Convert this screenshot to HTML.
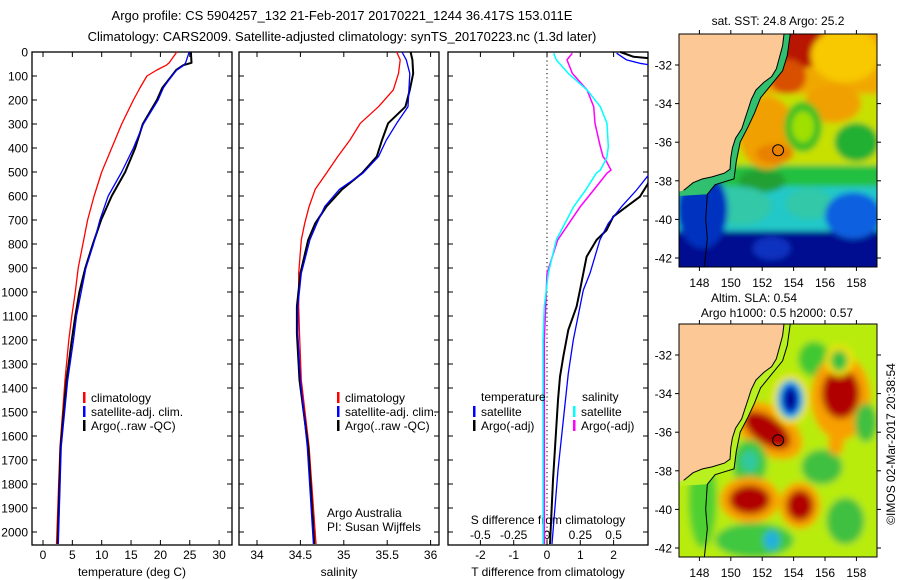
<!DOCTYPE html>
<html><head><meta charset="utf-8">
<style>
html,body{margin:0;padding:0;background:#fff;}
svg{display:block;font-family:"Liberation Sans",sans-serif;}
</style></head>
<body>
<svg id="fig" xmlns="http://www.w3.org/2000/svg" width="900" height="580" viewBox="0 0 900 580">
<defs>
<clipPath id="clipT"><rect x="448" y="37" width="200" height="508"/></clipPath>
<clipPath id="clipM1"><rect x="679" y="34" width="198" height="233"/></clipPath>
<clipPath id="clipM2"><rect x="679" y="324" width="198" height="233"/></clipPath>
<filter id="blur1" x="-20%" y="-20%" width="140%" height="140%"><feGaussianBlur stdDeviation="3.5"/></filter>
<filter id="blur2" x="-20%" y="-20%" width="140%" height="140%"><feGaussianBlur stdDeviation="3"/></filter>
</defs>
<text x="342" y="20" font-size="13" text-anchor="middle">Argo profile: CS 5904257_132 21-Feb-2017 20170221_1244 36.417S 153.011E</text>
<text x="342" y="41" font-size="13" text-anchor="middle">Climatology: CARS2009. Satellite-adjusted climatology: synTS_20170223.nc (1.3d later)</text>
<g id="g-panels"></g>
<g id="g-maps"></g>
<text font-size="12" text-anchor="middle" transform="translate(895,444) rotate(-90)">©IMOS 02-Mar-2017 20:38:54</text>
</svg>
<script>
// ---------- DATA ----------
const tempDepths = [0,45,55,75,100,150,200,300,400,500,600,700,800,900,1000,1100,1200,1367,1646,2050];
const tempClim   = [22.8,21.5,21.0,19.4,17.7,16.5,15.4,13.4,11.7,10.0,8.7,7.6,6.8,6.0,5.5,4.9,4.4,3.75,2.9,2.3];
const tempSat    = [24.9,24.3,24.0,22.8,21.9,20.5,19.6,17.1,15.4,13.4,11.1,9.7,8.6,7.3,6.5,5.7,5.2,4.2,3.1,2.6];
const tempArgo   = [25.2,25.3,23.9,22.7,21.9,20.3,19.4,17.0,15.7,14.0,11.7,9.9,8.5,7.2,6.2,5.5,4.9,4.0,3.0,2.5];

const salDepths = [0,33,89,158,228,297,367,436,505,572,644,714,783,922,1061,1172,1367,1646,2050];
const salClim   = [35.61,35.65,35.63,35.57,35.40,35.19,35.07,34.93,34.80,34.67,34.60,34.55,34.51,34.48,34.48,34.49,34.51,34.60,34.68];
const salSat    = [35.67,35.72,35.76,35.75,35.74,35.61,35.49,35.40,35.22,34.95,34.78,34.69,34.61,34.51,34.47,34.47,34.50,34.58,34.65];
const salArgo   = [35.77,35.79,35.80,35.76,35.71,35.51,35.44,35.38,35.21,34.98,34.80,34.67,34.59,34.50,34.46,34.46,34.49,34.59,34.66];

const sDiffDepths = [5,33,89,158,228,297,394,436,450,492,505,575,644,783,922,1061,1200,1600,2050];
const sDiffSat    = [0.05,0.07,0.16,0.30,0.40,0.45,0.46,0.45,0.44,0.40,0.37,0.29,0.20,0.07,0.01,-0.02,-0.03,-0.03,-0.03];
const sDiffArgo   = [0.19,0.15,0.19,0.30,0.35,0.36,0.40,0.42,0.44,0.48,0.45,0.35,0.25,0.08,0.00,-0.01,-0.02,-0.02,-0.02];

const tDiffDepths  = [5,33,47,54,120,514,575,644,714,783,922,992,1061,1200,1339,1742,2050];
const tDiffSat     = [2.09,2.39,2.79,3.1,3.6,3.04,2.69,2.24,1.84,1.59,1.29,1.09,0.99,0.79,0.64,0.33,0.15];
const tDiffArgoDep = [0,20,26,60,547,603,644,686,742,783,853,922,992,1061,1158,1269,1353,1450,1783,2050];
const tDiffArgo    = [2.2,2.6,3.05,3.6,3.04,2.79,2.39,1.99,1.79,1.49,1.19,1.09,0.99,0.89,0.64,0.49,0.39,0.33,0.18,0.09];

const depthTicks = [0,100,200,300,400,500,600,700,800,900,1000,1100,1200,1300,1400,1500,1600,1700,1800,1900,2000];
const tempTicks = [0,5,10,15,20,25,30];
const salTicks = [34,34.5,35,35.5,36];
const tDiffTicks = [-2,-1,0,1,2];
const sDiffTicks = [-0.5,-0.25,0,0.25,0.5];
const sDiffTickLabels = ["-0.5","-0.25","0","0.25","0.5"];
const lonTicks = [148,150,152,154,156,158];
const latTicks = [-32,-34,-36,-38,-40,-42];

// ---------- SCALES ----------
const NS='http://www.w3.org/2000/svg';
const yD = d => 52 + d*0.24;
const xT = t => 43 + t*5.87;
const xS = s => 257 + (s-34)*86.8;
const xTD = t => 547 + t*33.3;
const xSD = s => 547 + s*133.3;
const mapX = lon => 679 + (lon-146.7)*15.7;
const mapY = (lat,off) => 65 + off + (-32-lat)*19.3;

function mk(tag, attrs, parent){const e=document.createElementNS(NS,tag);for(const k in attrs)e.setAttribute(k,attrs[k]);parent.appendChild(e);return e;}
const G = document.getElementById('g-panels');
const M = document.getElementById('g-maps');

function line(depths, vals, xf, color, width, name, parent){
  const pts = depths.map((d,i)=>xf(vals[i]).toFixed(1)+','+yD(d).toFixed(1)).join(' ');
  const p = mk('polyline',{points:pts,fill:'none',stroke:color,'stroke-width':width,'stroke-linejoin':'round'},parent);
  
  
  return p;
}

function panel(x0, name){
  const r = mk('rect',{x:x0,y:52,width:200,height:493,fill:'none',stroke:'#000','stroke-width':1.3},G);
  
  
  depthTicks.forEach(d=>{
    mk('line',{x1:x0,x2:x0+5,y1:yD(d),y2:yD(d),stroke:'#000'},G);
    mk('line',{x1:x0+200,x2:x0+195,y1:yD(d),y2:yD(d),stroke:'#000'},G);
  });
}
panel(32,'temperature-panel');
panel(239,'salinity-panel');
panel(448,'difference-panel');

depthTicks.forEach(d=>{
  const t = mk('text',{x:28,y:yD(d)+4.5,'font-size':12,'text-anchor':'end'},G);
  t.textContent = d;
  
  
});
tempTicks.forEach(v=>{
  mk('line',{x1:xT(v),x2:xT(v),y1:545,y2:540,stroke:'#000'},G);
  mk('line',{x1:xT(v),x2:xT(v),y1:52,y2:57,stroke:'#000'},G);
  const t=mk('text',{x:xT(v),y:559,'font-size':12,'text-anchor':'middle'},G);t.textContent=v;
  
  
});
salTicks.forEach(v=>{
  mk('line',{x1:xS(v),x2:xS(v),y1:545,y2:540,stroke:'#000'},G);
  mk('line',{x1:xS(v),x2:xS(v),y1:52,y2:57,stroke:'#000'},G);
  const t=mk('text',{x:xS(v),y:559,'font-size':12,'text-anchor':'middle'},G);t.textContent=v;
  
  
});
tDiffTicks.forEach(v=>{
  mk('line',{x1:xTD(v),x2:xTD(v),y1:545,y2:540,stroke:'#000'},G);
  mk('line',{x1:xTD(v),x2:xTD(v),y1:52,y2:57,stroke:'#000'},G);
  const t=mk('text',{x:xTD(v),y:559,'font-size':12,'text-anchor':'middle'},G);t.textContent=v;
  
  
});
sDiffTicks.forEach((v,i)=>{
  const t=mk('text',{x:xSD(v),y:539,'font-size':12,'text-anchor':'middle'},G);t.textContent=sDiffTickLabels[i];
  
  
});
function label(x,y,txt,name,anchor){
  const t=mk('text',{x:x,y:y,'font-size':12,'text-anchor':anchor||'middle'},G);t.textContent=txt;
  
  
}
label(132,576,'temperature (deg C)','temperature-axis-title');
label(339,576,'salinity','salinity-axis-title');
label(548,576,'T difference from climatology','t-diff-axis-title');
label(548,524,'S difference from climatology','s-diff-axis-title');
label(327,517,'Argo Australia','argo-australia-label','start');
label(327,531,'PI: Susan Wijffels','pi-label','start');

mk('line',{x1:xTD(0),x2:xTD(0),y1:52,y2:545,stroke:'#000','stroke-dasharray':'1.2,3','stroke-width':1},G);

line(tempDepths,tempClim,xT,'#ff0000',1.3,'temperature-climatology-line',G);
line(tempDepths,tempArgo,xT,'#000',2,'temperature-argo-line',G);
line(tempDepths,tempSat,xT,'#0000ff',1.3,'temperature-satellite-line',G);
line(salDepths,salClim,xS,'#ff0000',1.3,'salinity-climatology-line',G);
line(salDepths,salArgo,xS,'#000',2,'salinity-argo-line',G);
line(salDepths,salSat,xS,'#0000ff',1.3,'salinity-satellite-line',G);
const gc = mk('g',{'clip-path':'url(#clipT)'},G);
line(tDiffArgoDep,tDiffArgo,xTD,'#000',2,'t-diff-argo-line',gc);
line(tDiffDepths,tDiffSat,xTD,'#0000ff',1.3,'t-diff-satellite-line',gc);
line(sDiffDepths,sDiffArgo,xSD,'#ff00ff',1.5,'s-diff-argo-line',gc);
line(sDiffDepths,sDiffSat,xSD,'#00ffff',1.5,'s-diff-satellite-line',gc);

function leg(x,y,color,txt,name){
  mk('rect',{x:x,y:y-10,width:2.5,height:11,fill:color},G);
  const t=mk('text',{x:x+8,y:y,'font-size':12},G);t.textContent=txt;
  
  
}
leg(83,402,'#ff0000','climatology','legend-climatology');
leg(83,416,'#0000ff','satellite-adj. clim.','legend-satellite-adj');
leg(83,430,'#000','Argo(..raw -QC)','legend-argo');
leg(337,402,'#ff0000','climatology','legend-climatology-sal');
leg(337,416,'#0000ff','satellite-adj. clim.','legend-satellite-adj-sal');
leg(337,430,'#000','Argo(..raw -QC)','legend-argo-sal');
label(481,401,'temperature','legend-temperature-heading','start');
label(582,401,'salinity','legend-salinity-heading','start');
leg(473,416,'#0000ff','satellite','legend-t-satellite');
leg(473,430,'#000','Argo(-adj)','legend-t-argo');
leg(573,416,'#00ffff','satellite','legend-s-satellite');
leg(573,430,'#ff00ff','Argo(-adj)','legend-s-argo');

// ---------- MAPS ----------
const land = [[146.5,-30.3],[153.4,-30.3],[153.3,-31],[153.1,-31.6],[152.9,-32.2],[152.6,-32.6],[152.1,-32.9],[151.6,-33.3],[151.3,-33.8],[151.1,-34.3],[150.9,-34.8],[150.7,-35.3],[150.3,-35.8],[150.1,-36.3],[150.0,-36.8],[149.95,-37.4],[149.6,-37.6],[148.8,-37.8],[148.2,-37.9],[147.6,-38.1],[147.0,-38.5],[146.5,-38.6]];
const isobath = [[153.8,-30.3],[153.6,-31.5],[153.3,-32.3],[152.6,-33.0],[151.9,-33.7],[151.5,-34.5],[151.1,-35.2],[150.6,-36.0],[150.35,-37.0],[150.2,-37.9],[149.0,-38.2],[148.5,-38.7],[148.4,-40.0],[148.5,-41.0],[148.3,-42.6]];
function poly(pts,off){return pts.map(p=>mapX(p[0]).toFixed(1)+','+mapY(p[1],off).toFixed(1)).join(' ');}
function blob(g,lon,lat,rx,ry,color,off,rot){
  const e=mk('ellipse',{cx:mapX(lon),cy:mapY(lat,off),rx:rx*15.7,ry:ry*19.3,fill:color},g);
  if(rot) e.setAttribute('transform','rotate('+rot+' '+mapX(lon)+' '+mapY(lat,off)+')');
}
function bandRect(g,lat1,lat2,color,off){
  mk('rect',{x:670,y:mapY(lat1,off),width:220,height:mapY(lat2,off)-mapY(lat1,off),fill:color},g);
}
function mapFrame(off,top,name){
  const r=mk('rect',{x:679,y:top,width:198,height:233,fill:'none',stroke:'#000','stroke-width':1},M);
  
  
  lonTicks.forEach(v=>{
    mk('line',{x1:mapX(v),x2:mapX(v),y1:top,y2:top-4,stroke:'#000'},M);
    mk('line',{x1:mapX(v),x2:mapX(v),y1:top+233,y2:top+237,stroke:'#000'},M);
    const t=mk('text',{x:mapX(v),y:top+253,'font-size':12,'text-anchor':'middle'},M);t.textContent=v;
    
    
  });
  latTicks.forEach(v=>{
    mk('line',{x1:679,x2:675,y1:mapY(v,off),y2:mapY(v,off),stroke:'#000'},M);
    mk('line',{x1:877,x2:881,y1:mapY(v,off),y2:mapY(v,off),stroke:'#000'},M);
    const t=mk('text',{x:672,y:mapY(v,off)+4.5,'font-size':12,'text-anchor':'end'},M);t.textContent=v;
    
    
  });
}
function landAndCoast(g,off,shelf){
  if(shelf) mk('polygon',{points:poly(land.slice(1).concat([[146.5,-38.8]]).concat(isobath.slice(0,12).reverse()),off),fill:shelf},g);
  mk('polygon',{points:poly(land,off),fill:'#fbc896'},g);
  mk('polyline',{points:poly(land.slice(1,-1),off),fill:'none',stroke:'#000','stroke-width':1},g);
  mk('polyline',{points:poly(isobath,off),fill:'none',stroke:'#000','stroke-width':1},g);
  mk('circle',{cx:mapX(153.011),cy:mapY(-36.417,off),r:5.5,fill:'none',stroke:'#000','stroke-width':1},g);
}
// SST map
const g1 = mk('g',{'clip-path':'url(#clipM1)'},M);


const b1 = mk('g',{filter:'url(#blur2)'},g1);
bandRect(b1,-30,-33.5,'#f0a800',0);
bandRect(b1,-33.5,-37.2,'#c8e000',0);
bandRect(b1,-37.2,-38.3,'#20c040',0);
bandRect(b1,-38.3,-40.6,'#20c8c8',0);
bandRect(b1,-40.6,-43,'#001090',0);
blob(b1,154.2,-31.0,2.0,1.2,'#b81800',0);
blob(b1,153.6,-32.6,1.2,0.9,'#d85000',0);
blob(b1,157.3,-31.5,2.2,1.4,'#f8c800',0);
blob(b1,156.5,-34.0,1.8,1.0,'#f0a000',0);
blob(b1,152.3,-35.5,1.8,1.9,'#f0a000',0);
blob(b1,152.8,-36.6,1.2,0.5,'#e88000',0);
blob(b1,154.6,-35.2,1.2,1.3,'#40c020',0);
blob(b1,154.6,-35.2,0.7,0.8,'#a0e000',0);
blob(b1,158.0,-36.0,1.4,1.0,'#20b030',0);
blob(b1,152.0,-38.0,1.5,0.6,'#20a030',0);
blob(b1,150.6,-39.3,2.0,1.0,'#30c8a8',0);
blob(b1,155.0,-39.2,1.5,0.8,'#30c8a8',0);
blob(b1,157.8,-39.8,1.8,1.2,'#1060e0',0);
blob(b1,148.2,-39.5,1.6,2.0,'#0030c0',0);
blob(b1,152.6,-41.5,1.2,0.6,'#1030c0',0);
landAndCoast(g1,0,'#30c070');
mapFrame(0,34,'sst-map-frame');
const st1=mk('text',{x:778,y:25,'font-size':12,'text-anchor':'middle'},M);st1.textContent='sat. SST: 24.8 Argo: 25.2';



// SLA map
const g2 = mk('g',{'clip-path':'url(#clipM2)'},M);


const b2 = mk('g',{filter:'url(#blur1)'},g2);
mk('rect',{x:670,y:320,width:220,height:245,fill:'#b8ec10'},b2);
blob(b2,155.3,-32.2,1.0,0.9,'#40c830',290);
blob(b2,157.0,-34.2,1.9,2.2,'#f8a000',290);
blob(b2,157.0,-34.0,1.2,1.3,'#b00000',290);
blob(b2,156.9,-32.3,0.9,0.8,'#f8e000',290);
blob(b2,156.9,-32.3,0.55,0.55,'#30c040',290);
blob(b2,152.4,-35.9,2.4,1.2,'#f8a000',290,35);
blob(b2,152.3,-35.9,1.7,0.7,'#b00000',290,35);
blob(b2,153.8,-34.3,1.2,1.3,'#f8e000',290);
blob(b2,153.8,-34.3,0.9,1.05,'#20d0d0',290);
blob(b2,153.8,-34.3,0.65,0.85,'#0050f0',290);
blob(b2,153.8,-34.3,0.42,0.62,'#000090',290);
blob(b2,151.2,-37.6,1.1,1.2,'#40c840',290);
blob(b2,151.2,-37.5,0.55,0.55,'#30c8a0',290);
blob(b2,155.8,-37.8,1.3,0.9,'#40c040',290);
blob(b2,158.6,-35.5,0.7,1.0,'#40c040',290);
blob(b2,156.7,-36.6,0.5,0.6,'#f8a000',290);
blob(b2,151.2,-39.5,1.9,1.2,'#f8a000',290);
blob(b2,151.2,-39.5,1.3,0.75,'#b00000',290);
blob(b2,154.4,-39.8,1.3,1.2,'#f8a000',290);
blob(b2,154.4,-39.8,0.85,0.8,'#b00000',290);
blob(b2,157.3,-40.6,1.2,1.2,'#40c040',290);
blob(b2,151.5,-41.6,2.5,0.9,'#40c840',290);
blob(b2,152.6,-41.6,0.5,0.5,'#20b0e0',290);
blob(b2,148.2,-39.5,0.9,2.5,'#50d030',290);
landAndCoast(g2,290,'#b8f020');
mapFrame(290,324,'sla-map-frame');
const st2=mk('text',{x:754,y:302,'font-size':12,'text-anchor':'middle'},M);st2.textContent='Altim. SLA: 0.54';


const st3=mk('text',{x:777,y:317,'font-size':12,'text-anchor':'middle'},M);st3.textContent='Argo h1000: 0.5 h2000: 0.57';


</script>
</body></html>
